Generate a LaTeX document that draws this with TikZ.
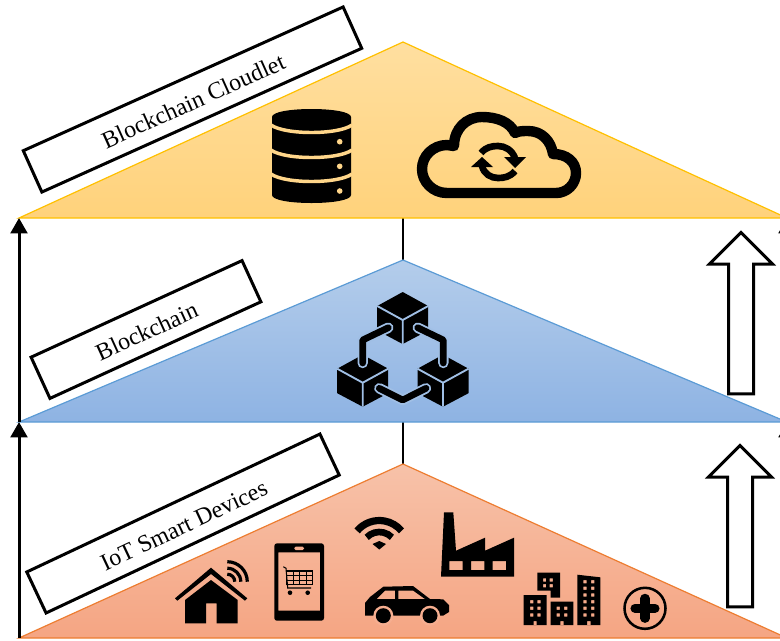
\documentclass[tikz,border=0pt]{standalone}
\usepackage{fontspec}
\setmainfont{Liberation Serif}
\usetikzlibrary{shapes.arrows, arrows.meta}
\definecolor{cloudlet}{HTML}{FFC000}
\definecolor{chain}{HTML}{5B9BD5}
\definecolor{iot}{HTML}{ED7D31}
\definecolor{cloudgap}{HTML}{FFD68A}
\definecolor{chaingap}{HTML}{A0BFE5}
\definecolor{iotgap}{HTML}{F6AE90}
\tikzstyle{labelbox} = [rectangle, draw=black, line width=2.25pt, fill=white, minimum height=34pt, inner sep=0pt, text height=15pt, text depth=0pt, font=\fontsize{18}{20}\selectfont]
\tikzstyle{uparrow} = [single arrow, shape border rotate=90, draw=black, line width=2.25pt, fill=white, minimum width=45pt, minimum height=121pt, single arrow head extend=14.25pt, inner sep=8.25pt]
\tikzstyle{layerarrow} = [line width=2.25pt, -{Triangle[length=11.5pt,width=12.5pt]}]
\tikzstyle{stem} = [line width=1.6pt]
\tikzstyle{cloudtri} = [draw=cloudlet, line width=0.9pt, top color={rgb,255:red,255;green,223;blue,160}, bottom color={rgb,255:red,255;green,210;blue,123}]
\tikzstyle{chaintri} = [draw=chain, line width=0.9pt, top color={rgb,255:red,180;green,205;blue,235}, bottom color={rgb,255:red,142;green,179;blue,227}]
\tikzstyle{iottri} = [draw=iot, line width=0.9pt, top color={rgb,255:red,247;green,194;blue,169}, bottom color={rgb,255:red,245;green,165;blue,131}]
\tikzstyle{link} = [line width=5pt, line cap=round, line join=round]
\tikzstyle{linkhalo} = [link, line width=7.8pt, draw=chaingap]
\tikzstyle{wing} = [line width=2.4pt]
\tikzset{chaincube/.pic={
    \fill (0,-28) -- (25.5,-14) -- (25.5,10.5) -- (0,24) -- (-25.5,10.5) -- (-25.5,-14) -- cycle;
    \draw [chaingap, line width=1.4pt] (-25.5,-14) -- (0,0) -- (25.5,-14) (0,0) -- (0,24);
}}

\begin{document}
\begin{tikzpicture}[x=0.75pt,y=-0.75pt]
    \useasboundingbox (0,0) rectangle (780,640);
    \clip (0,0) rectangle (780,640);

    \coordinate (cloudtop) at (403,42);
    \coordinate (cloudleft) at (19,218);
    \coordinate (cloudmid) at (403,218);
    \coordinate (cloudright) at (787,218);
    \coordinate (chaintop) at (403,260);
    \coordinate (chainleft) at (19,422);
    \coordinate (chainmid) at (403,422);
    \coordinate (chainright) at (787,422);
    \coordinate (iottop) at (403,464);
    \coordinate (iotleft) at (19,638);
    \coordinate (iotright) at (787,638);

    \draw [stem] (chaintop) -- (cloudmid);
    \draw [stem] (iottop) -- (chainmid);

    \draw [cloudtri] (cloudleft) -- (cloudtop) -- (cloudright) -- cycle;
    \draw [chaintri] (chainleft) -- (chaintop) -- (chainright) -- cycle;
    \draw [iottri] (iotleft) -- (iottop) -- (iotright) -- cycle;

    \draw [layerarrow] (iotleft) -- (chainleft);
    \draw [layerarrow] (chainleft) -- (cloudleft);
    \draw [layerarrow] (iotright) -- (chainright);
    \draw [layerarrow] (chainright) -- (cloudright);

    \node (uptop) [uparrow] at (741,319.5) {};
    \node (upbottom) [uparrow] at (740,532.5) {};

    \node (cloudletlabel) [labelbox, minimum width=263pt, rotate=24.2] at (192.5,99.5) {Blockchain Cloudlet};
    \node (chainlabel) [labelbox, minimum width=174pt, rotate=24.6] at (146,329.5) {Blockchain};
    \node (iotlabel) [labelbox, minimum width=243pt, rotate=25.2] at (183,523.5) {IoT Smart Devices};

    % database
    \fill (272,117) .. controls (272,112) and (290,109) .. (311.5,109) .. controls (333,109) and (351,112) .. (351,117) -- (351,195) .. controls (351,200) and (333,203) .. (311.5,203) .. controls (290,203) and (272,200) .. (272,195) -- cycle;
    \draw [cloudgap, line width=2.6pt] (271,125) .. controls (285,135) and (338,135) .. (352,125);
    \draw [cloudgap, line width=2.6pt] (271,150) .. controls (285,160) and (338,160) .. (352,150);
    \draw [cloudgap, line width=2.6pt] (271,174) .. controls (285,184) and (338,184) .. (352,174);
    \fill [cloudgap] (339.7,141.7) circle (2.8) (339.7,166.3) circle (2.8) (339.7,191) circle (2.8);

    % cloud
    \draw [line width=7.8pt, line join=round] (447,193) .. controls (433,193) and (422,182) .. (422,169) .. controls (422,156) and (433,145) .. (447,145) -- (454,146) .. controls (454,129) and (466,117) .. (482,117) .. controls (497,117) and (510,122) .. (515,133) .. controls (518,131) and (524,131) .. (528,131) .. controls (542,131) and (551,141) .. (553,154) .. controls (567,154) and (576,162) .. (576,173) .. controls (576,184) and (567,193) .. (556,193) -- cycle;
    \draw [line width=5pt] (481,153) .. controls (486,147) and (492,146) .. (498,146) .. controls (505,146) and (512,150) .. (515,158);
    \draw [line width=5pt] (515,171) .. controls (510,177) and (504,178) .. (498,178) .. controls (491,178) and (484,174) .. (482,166);
    \fill (504,157) -- (526,157) -- (515,168) -- cycle;
    \fill (471,167) -- (493,167) -- (482,157) -- cycle;

    % blockchain
    \pic at (402.7,320) {chaincube};
    \pic at (362.7,382.7) {chaincube};
    \pic at (443,382.7) {chaincube};
    \draw [linkhalo] (388.3,327.7) -- (362.7,340) -- (362.7,363);
    \draw [link] (388.3,327.7) -- (362.7,340) -- (362.7,363);
    \draw [linkhalo] (417.7,327.7) -- (443.3,340) -- (443.3,363);
    \draw [link] (417.7,327.7) -- (443.3,340) -- (443.3,363);
    \draw [linkhalo] (379.3,388.3) -- (402.7,400) -- (426,388.3);
    \draw [link] (379.3,388.3) -- (402.7,400) -- (426,388.3);

    % house
    \fill (211,567.7) -- (247.3,598.3) -- (245,600.7) -- (211,574) -- (177.3,600.7) -- (175,598.3) -- cycle;
    \fill (211,580) -- (237.7,600) -- (237.7,623.3) -- (216.7,623.3) -- (216.7,603.3) -- (206,603.3) -- (206,623.3) -- (185,623.3) -- (185,600) -- cycle;
    \draw [wing] (227.3,561.7) arc [start angle=-90, end angle=0, radius=20];
    \draw [wing] (227.3,568.2) arc [start angle=-90, end angle=0, radius=13.5];
    \draw [wing] (227.3,574.2) arc [start angle=-90, end angle=0, radius=7.5];

    % tablet
    \fill [even odd rule, rounded corners=2pt] (274.3,543.3) rectangle (324,620.7) [sharp corners] (278.3,552.3) rectangle (320,610.7);
    \fill [iotgap, rounded corners=1pt] (294.3,546.7) rectangle (304,550);
    \draw [line width=0.8pt] (283.3,566.7) -- (286,568.3) -- (287.7,588) -- (311,588);
    \draw [line width=0.8pt] (286.7,571) rectangle (312.7,584.3);
    \draw [line width=0.6pt] (286.7,575.5) -- (312.7,575.5) (287,580) -- (312.7,580) (293,571) -- (293,584.3) (299.5,571) -- (299.5,584.3) (306,571) -- (306,584.3);
    \fill (290,592.7) circle (2.3) (307.7,592.7) circle (2.3);

    % wifi
    \draw [line width=5.4pt] (379.3,549.5) ++(-140:29) arc [start angle=-140, end angle=-40, radius=29];
    \draw [line width=5pt] (379.3,549.5) ++(-136:17.5) arc [start angle=-136, end angle=-44, radius=17.5];
    \fill (379.3,549.5) -- (372.5,544) -- (379.3,541) -- (386,544) -- cycle;

    % car
    \fill [even odd rule] (365,615.7) -- (365,603) -- (370,597) -- (383.3,586.7) -- (413,586) -- (430,599) -- (443.3,599.3) -- (449,605) -- (449,612) -- (443,615.7) -- cycle (376.7,599) -- (385,590.7) -- (395,590.7) -- (395,599) -- cycle (398.3,590.7) -- (413.3,590.7) -- (425,599) -- (398.3,599) -- cycle;
    \fill [iotgap] (383.3,615.7) circle (10) (430,615.7) circle (10);
    \fill (383.3,615.7) circle (7.5) (430,615.7) circle (7.5);

    % factory
    \fill [even odd rule] (444,512.3) -- (453.3,512.3) -- (456,550.7) -- (485,537.7) -- (485,550.7) -- (514,537.7) -- (514,576.7) -- (441,576.7) -- cycle (449.3,561) rectangle (462.7,570) (471,561) rectangle (484.3,570) (492.7,561) rectangle (506,570);

    % buildings
    \fill [even odd rule] (537.3,572.7) -- (560,572.7) -- (560,597.7) -- (550.7,597.7) -- (550.7,590.7) -- (537.3,590.7) -- cycle (543,578.4) rectangle ++(3.2,3.2) (549.7,578.4) rectangle ++(3.2,3.2) (543,584.1) rectangle ++(3.2,3.2) (549.7,584.1) rectangle ++(3.2,3.2);
    \fill [even odd rule] (523.7,595) rectangle (546.7,625) (530.1,600.1) rectangle ++(3.2,3.2) (537.4,600.1) rectangle ++(3.2,3.2) (530.1,606.7) rectangle ++(3.2,3.2) (537.4,606.7) rectangle ++(3.2,3.2) (530.1,613.4) rectangle ++(3.2,3.2) (537.4,613.4) rectangle ++(3.2,3.2) (533.5,621) rectangle (536.7,625);
    \fill [even odd rule] (550.7,601.7) rectangle (573.3,625) (556.7,606.7) rectangle ++(3.2,3.2) (564.1,606.7) rectangle ++(3.2,3.2) (556.7,613.4) rectangle ++(3.2,3.2) (564.1,613.4) rectangle ++(3.2,3.2) (560.4,621) rectangle (563.6,625);
    \fill [even odd rule] (577.3,574.7) -- (600.3,577.3) -- (600.3,625) -- (577.3,625) -- cycle (583.4,580.1) rectangle ++(3.2,3.2) (591.1,580.1) rectangle ++(3.2,3.2) (583.4,586.7) rectangle ++(3.2,3.2) (591.1,586.7) rectangle ++(3.2,3.2) (583.4,593.4) rectangle ++(3.2,3.2) (591.1,593.4) rectangle ++(3.2,3.2) (583.4,600.1) rectangle ++(3.2,3.2) (591.1,600.1) rectangle ++(3.2,3.2) (583.4,606.7) rectangle ++(3.2,3.2) (591.1,606.7) rectangle ++(3.2,3.2) (583.4,613.4) rectangle ++(3.2,3.2) (591.1,613.4) rectangle ++(3.2,3.2) (587,621) rectangle (590.6,625);

    % health
    \draw [line width=1.9pt] (645,608.3) circle (20.5);
    \draw [line width=6.8pt, line cap=round] (635,608.3) -- (655,608.3) (645,598.3) -- (645,618.3);
\end{tikzpicture}
\end{document}
